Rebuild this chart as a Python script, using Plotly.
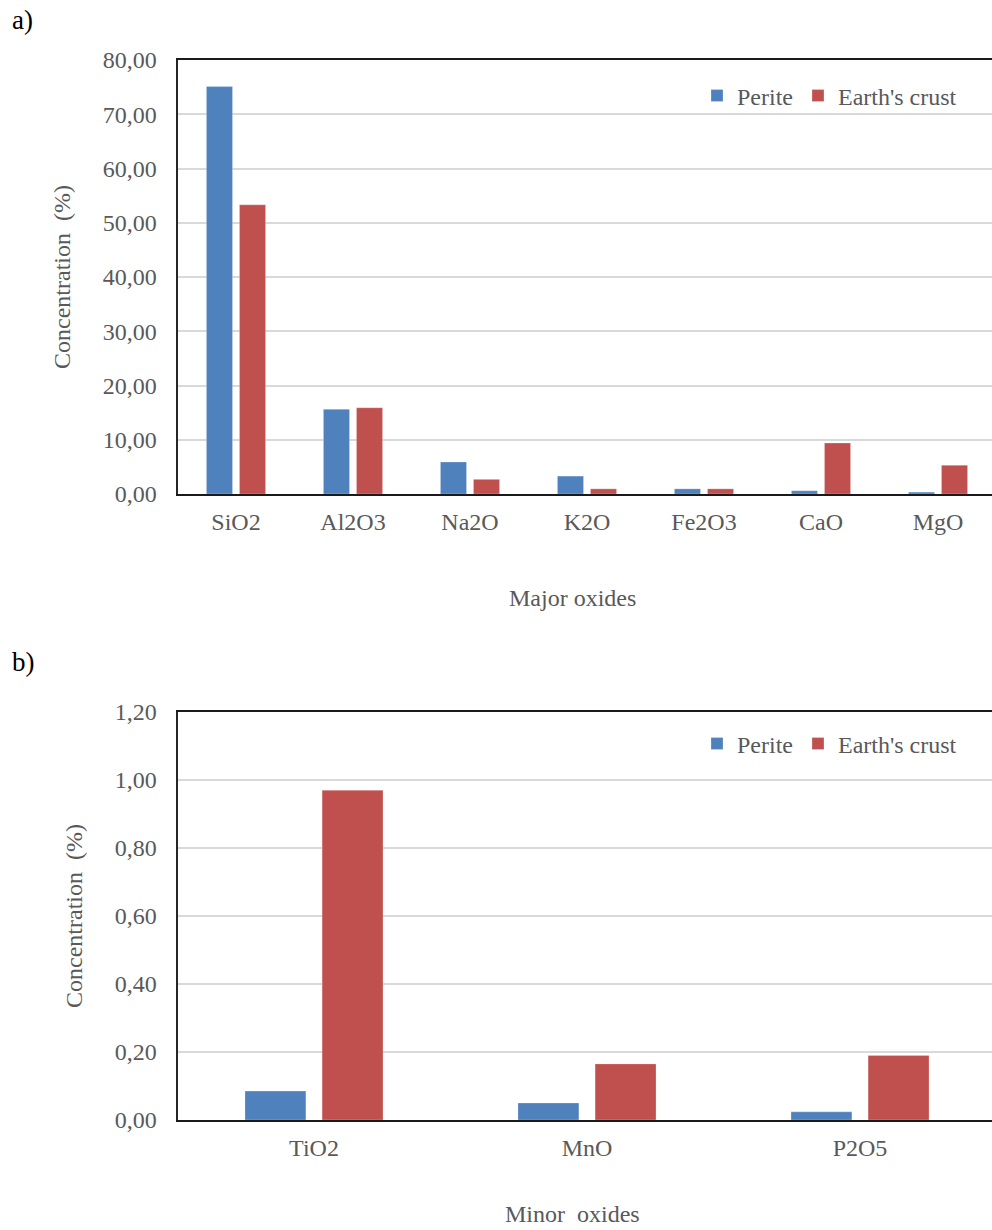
import plotly.graph_objects as go

# ---- data ----
major_oxides = ["SiO2", "Al2O3", "Na2O", "K2O", "Fe2O3", "CaO", "MgO"]
perite_major = [75.1, 15.6, 5.9, 3.3, 0.95, 0.6, 0.35]
crust_major = [53.3, 15.9, 2.7, 0.95, 0.95, 9.4, 5.3]

minor_oxides = ["TiO2", "MnO", "P2O5"]
perite_minor = [0.085, 0.05, 0.024]
crust_minor = [0.97, 0.165, 0.19]

series_names = ["Perite", "Earth's crust"]
colors = ["#4f81bd", "#c0504d"]

W, H = 992, 1230
FONT = "Liberation Serif, Times New Roman, serif"
GREY = "#595959"


def py(px):
    return 1 - px / H


fig = go.Figure()

for vals, name, col in [(perite_major, series_names[0], colors[0]),
                        (crust_major, series_names[1], colors[1])]:
    fig.add_trace(go.Bar(x=major_oxides, y=vals, name=name, marker_color=col,
                         marker_line=dict(color="rgba(255,255,255,0.5)", width=0.5),
                         xaxis="x", yaxis="y", legend="legend"))

for vals, name, col in [(perite_minor, series_names[0], colors[0]),
                        (crust_minor, series_names[1], colors[1])]:
    fig.add_trace(go.Bar(x=minor_oxides, y=vals, name=name, marker_color=col,
                         marker_line=dict(color="rgba(255,255,255,0.5)", width=0.5),
                         xaxis="x2", yaxis="y2", legend="legend2"))

xdom = [177.5 / W, 1.0]
axis_common = dict(showline=True, linecolor="#1a1a1a", linewidth=2, mirror=True,
                   ticks="", showgrid=False, zeroline=False, automargin=False,
                   ticklabelstandoff=5,
                   tickfont=dict(size=24, color=GREY, family=FONT))
yaxis_common = dict(showline=True, linecolor="#262626", linewidth=2,
                    ticks="", showgrid=True, gridcolor="#d9d9d9", gridwidth=1.5,
                    zeroline=False, tickformat=".2f", ticklabelstandoff=14,
                    automargin=False,
                    tickfont=dict(size=24, color=GREY, family=FONT),
                    title=dict(text="Concentration\u00a0 (%)", standoff=25,
                               font=dict(size=24, color=GREY, family=FONT)))

fig.update_layout(
    width=W, height=H,
    margin=dict(l=0, r=0, t=0, b=0, pad=0, autoexpand=False),
    paper_bgcolor="white", plot_bgcolor="white",
    font=dict(family=FONT, size=24, color=GREY),
    separators=",.",
    barmode="group", bargap=0.435, bargroupgap=0.21,
    xaxis=dict(domain=xdom, anchor="y", range=[-0.5, (W - 177.5) / 117 - 0.5], **axis_common),
    yaxis=dict(domain=[py(494), py(60)], anchor="x", range=[0, 80], dtick=10, **yaxis_common),
    xaxis2=dict(domain=xdom, anchor="y2", range=[-0.5, (W - 177.5) / 273 - 0.5], **axis_common),
    yaxis2=dict(domain=[py(1120), py(712)], anchor="x2", range=[0, 1.2], dtick=0.2, **yaxis_common),
    legend=dict(orientation="h", x=697 / W, xanchor="left", y=py(96), yanchor="middle",
                font=dict(size=24, color=GREY, family=FONT), bgcolor="rgba(0,0,0,0)"),
    legend2=dict(orientation="h", x=697 / W, xanchor="left", y=py(744), yanchor="middle",
                 font=dict(size=24, color=GREY, family=FONT), bgcolor="rgba(0,0,0,0)"),
    annotations=[
        dict(text="a)", x=10 / W, y=py(20), xref="paper", yref="paper", xanchor="left",
             yanchor="middle", showarrow=False, font=dict(size=27, color="black", family=FONT)),
        dict(text="b)", x=10 / W, y=py(662), xref="paper", yref="paper", xanchor="left",
             yanchor="middle", showarrow=False, font=dict(size=27, color="black", family=FONT)),
        dict(text="Major oxides", x=572 / W, y=py(598), xref="paper", yref="paper",
             xanchor="center", yanchor="middle", showarrow=False,
             font=dict(size=24, color=GREY, family=FONT)),
        dict(text="Minor\u00a0 oxides", x=572 / W, y=py(1214), xref="paper", yref="paper",
             xanchor="center", yanchor="middle", showarrow=False,
             font=dict(size=24, color=GREY, family=FONT)),
    ],
)

fig.write_html(
    "out.html",
    config={"displayModeBar": False},
    post_script="document.body.style.margin='0';document.body.style.overflow='hidden';",
)
